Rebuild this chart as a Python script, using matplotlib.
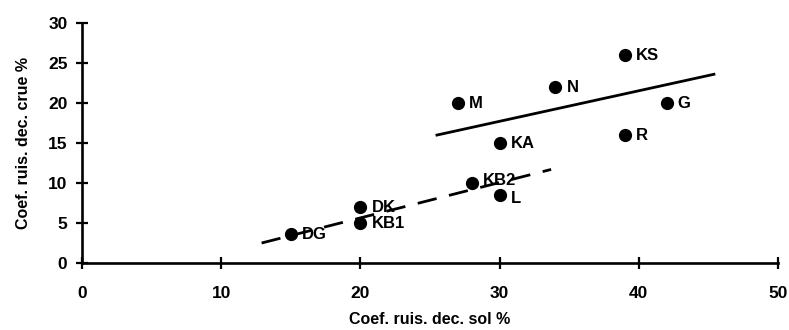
import matplotlib.pyplot as plt

# points
names = ['KS', 'N', 'M', 'G', 'R', 'KA', 'KB2', 'L', 'DK', 'KB1', 'DG']
x_sol = [39, 34, 27, 42, 39, 30, 28, 30, 20, 20, 15]
y_crue = [26, 22, 20, 20, 16, 15, 10, 8.5, 7, 5, 3.6]

# fitted lines (end points)
solid_x = [25.5, 45.4]
solid_y = [16.0, 23.6]
dash_x = [12.9, 33.7]
dash_y = [2.5, 11.7]

plt.rcParams['font.family'] = ['Liberation Sans', 'DejaVu Sans']
plt.rcParams['font.weight'] = 'bold'

fig = plt.figure(figsize=(7.89, 3.30), dpi=100)
ax = fig.add_axes([0.104, 0.203, 0.882, 0.727])

ax.plot(x_sol, y_crue, 'o', color='black', markersize=8.5, clip_on=False)
nudge = {'KB2': 2, 'L': -2.5}
for n, x, y in zip(names, x_sol, y_crue):
    ax.annotate(n, (x, y), xytext=(8, nudge.get(n, 0)), textcoords='offset points',
                va='center', ha='left', fontsize=12, fontweight='bold')

ax.plot(solid_x, solid_y, '-', color='black', lw=2)
ax.plot(dash_x, dash_y, '-', color='black', lw=2, dashes=(7, 4.6))

ax.set_xlim(0, 50)
ax.set_ylim(0, 30)
ax.set_xticks(range(0, 51, 10))
ax.set_yticks(range(0, 31, 5))
for s in ['top', 'right']:
    ax.spines[s].set_visible(False)
for s in ['left', 'bottom']:
    ax.spines[s].set_linewidth(1.9)
ax.tick_params(direction='inout', length=9, width=1.6, labelsize=12.5)
ax.tick_params(axis='x', pad=12)
ax.tick_params(axis='y', pad=6)
for lab in ax.get_xticklabels() + ax.get_yticklabels():
    lab.set_fontweight('bold')

ax.set_xlabel('Coef. ruis. dec. sol %', fontsize=11.5, fontweight='bold', labelpad=8)
ax.set_ylabel('Coef. ruis. dec. crue %', fontsize=11.5, fontweight='bold', labelpad=12)

plt.savefig('out.png', dpi=100)
